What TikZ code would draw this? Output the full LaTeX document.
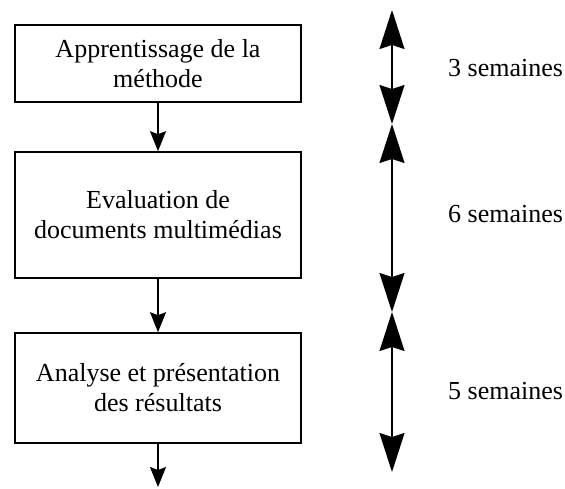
\documentclass[tikz,border=0pt]{standalone}
\usepackage{fontspec}
\setmainfont{Liberation Serif}
\usetikzlibrary{arrows.meta}
\begin{document}
\begin{tikzpicture}[x=1pt,y=1pt,
  every node/.style={font=\fontsize{26}{30}\selectfont},
  stagebox/.style={draw, line width=1.6pt, minimum width=286pt, align=center, inner sep=0pt},
  flow/.style={line width=1.6pt, -{Stealth[length=20pt,width=16pt,inset=3pt]}},
  span/.style={line width=1.6pt, {Stealth[length=39pt,width=25pt,inset=4pt]}-{Stealth[length=39pt,width=25pt,inset=4pt]}},
  durlabel/.style={anchor=west, inner sep=0pt}]
\useasboundingbox (0,0) rectangle (565,-488);
\node[stagebox, minimum height=77pt] (b1) at (158,-63.5) {Apprentissage de la\\méthode};
\node[stagebox, minimum height=126pt] (b2) at (158,-215) {Evaluation de\\documents multimédias};
\node[stagebox, minimum height=110pt] (b3) at (158,-388) {Analyse et présentation\\des résultats};
\coordinate (end) at (158,-487);
\draw[flow] (b1) -- (b2);
\draw[flow] (b2) -- (b3);
\draw[flow] (b3) -- (end);
\coordinate (t0) at (392,-10);
\coordinate (t1) at (392,-124);
\coordinate (t2) at (392,-312);
\coordinate (t3) at (392,-472);
\draw[span] (t0) -- (t1);
\draw[span] (t1) -- (t2);
\draw[span] (t2) -- (t3);
\node[durlabel] (l1) at (448,-68) {3 semaines};
\node[durlabel] (l2) at (448,-214) {6 semaines};
\node[durlabel] (l3) at (448,-391) {5 semaines};
\end{tikzpicture}
\end{document}
